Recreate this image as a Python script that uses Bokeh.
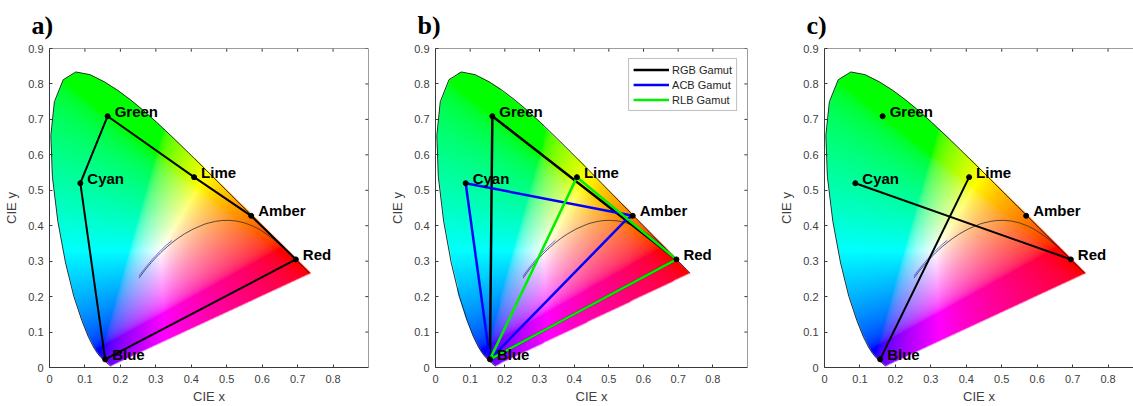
import numpy as np
from bokeh.plotting import figure
from bokeh.layouts import row
from bokeh.models import Range1d, FixedTicker, Legend, LegendItem, Span
from bokeh.embed import file_html
from bokeh.resources import INLINE
from bokeh.core.properties import value

# ---------------- data ----------------
# CIE 1931 spectral locus (380..700 nm, 5 nm)
locus_x = [0.1741, 0.1740, 0.1738, 0.1736, 0.1733, 0.1730, 0.1726, 0.1721, 0.1714, 0.1703,
           0.1689, 0.1669, 0.1644, 0.1611, 0.1566, 0.1510, 0.1440, 0.1355, 0.1241, 0.1096,
           0.0913, 0.0687, 0.0454, 0.0235, 0.0082, 0.0039, 0.0139, 0.0389, 0.0743, 0.1142,
           0.1547, 0.1929, 0.2296, 0.2658, 0.3016, 0.3373, 0.3731, 0.4087, 0.4441, 0.4788,
           0.5125, 0.5448, 0.5752, 0.6029, 0.6270, 0.6482, 0.6658, 0.6801, 0.6915, 0.7006,
           0.7079, 0.7140, 0.7190, 0.7230, 0.7260, 0.7283, 0.7300, 0.7311, 0.7320, 0.7327,
           0.7334, 0.7340, 0.7344, 0.7346, 0.7347]
locus_y = [0.0050, 0.0050, 0.0049, 0.0049, 0.0048, 0.0048, 0.0048, 0.0048, 0.0051, 0.0058,
           0.0069, 0.0086, 0.0109, 0.0138, 0.0177, 0.0227, 0.0297, 0.0399, 0.0578, 0.0868,
           0.1327, 0.2007, 0.2950, 0.4127, 0.5384, 0.6548, 0.7502, 0.8120, 0.8338, 0.8262,
           0.8059, 0.7816, 0.7543, 0.7243, 0.6923, 0.6589, 0.6245, 0.5896, 0.5547, 0.5202,
           0.4866, 0.4544, 0.4242, 0.3965, 0.3725, 0.3514, 0.3340, 0.3197, 0.3083, 0.2993,
           0.2920, 0.2859, 0.2809, 0.2770, 0.2740, 0.2717, 0.2700, 0.2689, 0.2680, 0.2673,
           0.2666, 0.2660, 0.2656, 0.2654, 0.2653]

# Planckian locus (1000 K .. 25000 K)
planck_x = [0.6528, 0.6251, 0.5985, 0.5857, 0.5732, 0.5496, 0.5267, 0.5056, 0.4862, 0.4685,
            0.4476, 0.4369, 0.4053, 0.3805, 0.3608, 0.3451, 0.3325, 0.3221, 0.3135, 0.3064,
            0.2952, 0.2869, 0.2807, 0.2719, 0.2637, 0.2565, 0.2525]
planck_y = [0.3444, 0.3674, 0.3858, 0.3931, 0.3993, 0.4082, 0.4133, 0.4152, 0.4147, 0.4123,
            0.4074, 0.4041, 0.3907, 0.3768, 0.3636, 0.3516, 0.3411, 0.3318, 0.3237, 0.3166,
            0.3048, 0.2956, 0.2884, 0.2778, 0.2674, 0.2577, 0.2523]

# Daylight locus
daylight_x = [0.3457, 0.3300, 0.3100, 0.2900, 0.2700, 0.2524]
daylight_y = [0.3586, 0.3454, 0.3264, 0.3050, 0.2812, 0.2583]

# LED primaries
names = ["Green", "Cyan", "Blue", "Lime", "Amber", "Red"]
pt_x = [0.164, 0.087, 0.157, 0.408, 0.569, 0.695]
pt_y = [0.709, 0.520, 0.023, 0.537, 0.428, 0.305]
extra_x = {"ACB corner": 0.551}
extra_y = {"ACB corner": 0.418}

path_a = ["Green", "Lime", "Amber", "Red", "Blue", "Cyan", "Green"]
rgb_path = ["Green", "Red", "Blue", "Green"]
acb_path = ["Amber", "Cyan", "Blue", "ACB corner", "Amber"]
rlb_path = ["Red", "Lime", "Blue", "Red"]
paths_c = [["Cyan", "Red"], ["Lime", "Blue"]]

x_ticks = [0, 0.1, 0.2, 0.3, 0.4, 0.5, 0.6, 0.7, 0.8]
y_ticks = [0, 0.1, 0.2, 0.3, 0.4, 0.5, 0.6, 0.7, 0.8, 0.9]
x_tick_labels = ["0", "0.1", "0.2", "0.3", "0.4", "0.5", "0.6", "0.7", "0.8"]
y_tick_labels = ["0", "0.1", "0.2", "0.3", "0.4", "0.5", "0.6", "0.7", "0.8", "0.9"]
x_max, y_max = 0.9, 0.9

PX = dict(zip(names, pt_x)); PX.update(extra_x)
PY = dict(zip(names, pt_y)); PY.update(extra_y)

def coords(path):
    return [PX[n] for n in path], [PY[n] for n in path]

# ---------------- chromaticity background image ----------------
img_dw, img_dh = 0.75, 0.85
nx, ny, s = 266, 302, 3
xf = (np.arange(nx * s) + 0.5) * img_dw / (nx * s)
yf = (np.arange(ny * s) + 0.5) * img_dh / (ny * s)
XX, YY = np.meshgrid(xf, yf)
vx = np.array(locus_x); vy = np.array(locus_y)
inside = np.zeros(XX.shape, dtype=bool)
j = len(vx) - 1
for i in range(len(vx)):
    xi, yi, xj, yj = vx[i], vy[i], vx[j], vy[j]
    cond = (yi > YY) != (yj > YY)
    dy = (yj - yi) if (yj - yi) != 0 else 1e-12
    xint = (xj - xi) * (YY - yi) / dy + xi
    inside ^= cond & (XX < xint)
    j = i
Xc = XX / YY
Zc = (1 - XX - YY) / YY
r = 3.2406 * Xc - 1.5372 - 0.4986 * Zc
g = -0.9689 * Xc + 1.8758 + 0.0415 * Zc
b = 0.0557 * Xc - 0.2040 + 1.0570 * Zc
rgb = np.clip(np.stack([r, g, b], axis=-1), 0, None)
rgb = rgb / np.maximum(rgb.max(axis=-1, keepdims=True), 1e-9)
rgb = np.where(rgb <= 0.0031308, 12.92 * rgb, 1.055 * np.power(rgb, 1 / 2.4) - 0.055)
m = inside.astype(float)
cov = m.reshape(ny, s, nx, s).mean(axis=(1, 3))
col = (rgb * m[..., None]).reshape(ny, s, nx, s, 3).sum(axis=(1, 3))
col = col / np.maximum(m.reshape(ny, s, nx, s).sum(axis=(1, 3)), 1e-9)[..., None]
rgba = np.zeros((ny, nx, 4), dtype=np.uint8)
rgba[..., :3] = np.clip(col * 255 + 0.5, 0, 255).astype(np.uint8)
rgba[..., 3] = np.clip(cov * 255 + 0.5, 0, 255).astype(np.uint8)
img = np.ascontiguousarray(rgba).view(np.uint32).reshape(ny, nx)

# ---------------- figures ----------------
AX = "#3a3a3a"
FONT = "Liberation Sans"
TICK = 0.009  # inward tick length (data units) for top/right edges
FRAME_W = 319
UNIT_PX = FRAME_W / x_max

def make_fig(title, width, left_b, right_b, x_end, right_edge):
    p = figure(width=width, height=406, x_range=Range1d(0, x_end), y_range=Range1d(0, y_max),
               output_backend="svg", toolbar_location=None,
               min_border_left=left_b, min_border_right=right_b,
               min_border_top=48, min_border_bottom=38)
    p.xgrid.visible = False
    p.ygrid.visible = False
    p.outline_line_color = None
    p.background_fill_color = "white"
    p.title.text = title
    p.title.text_font = "Liberation Serif"
    p.title.text_font_size = "26px"
    p.title.text_font_style = "bold"
    p.title.text_color = "black"
    p.title.offset = -18
    p.title.standoff = 17
    for ax in (p.xaxis[0], p.yaxis[0]):
        ax.axis_line_color = AX
        ax.major_tick_line_color = AX
        ax.minor_tick_line_color = None
        ax.major_tick_in = 3
        ax.major_tick_out = 0
        ax.major_label_text_font = FONT
        ax.major_label_text_font_size = "11px"
        ax.major_label_text_color = "#404040"
        ax.axis_label_text_font = FONT
        ax.axis_label_text_font_size = "13px"
        ax.axis_label_text_font_style = "normal"
        ax.axis_label_text_color = "#404040"
    p.xaxis[0].ticker = FixedTicker(ticks=x_ticks)
    p.xaxis[0].major_label_overrides = dict(zip(x_ticks, x_tick_labels))
    p.yaxis[0].ticker = FixedTicker(ticks=y_ticks)
    p.yaxis[0].major_label_overrides = dict(zip(y_ticks, y_tick_labels))
    p.xaxis[0].axis_label = "CIE x"
    p.yaxis[0].axis_label = "CIE y"
    p.xaxis[0].major_label_standoff = 7
    p.xaxis[0].axis_label_standoff = 3
    p.yaxis[0].major_label_standoff = 6
    p.yaxis[0].axis_label_standoff = 6
    # top edge (and right edge) of the box, with inward ticks
    p.add_layout(Span(location=y_max, dimension="width", line_color=AX, line_width=1))
    p.segment(x0=x_ticks, y0=[y_max] * len(x_ticks), x1=x_ticks,
              y1=[y_max - TICK] * len(x_ticks), line_color=AX, line_width=1)
    if right_edge:
        p.add_layout(Span(location=x_end, dimension="height", line_color=AX, line_width=1))
        p.segment(x0=[x_end] * len(y_ticks), y0=y_ticks, x1=[x_end - TICK] * len(y_ticks),
                  y1=y_ticks, line_color=AX, line_width=1)
    # chromaticity background
    p.image_rgba(image=[img], x=0, y=0, dw=img_dw, dh=img_dh)
    p.line(locus_x, locus_y, line_color="black", line_width=0.8)
    p.line(planck_x, planck_y, line_color="#303030", line_width=1, line_alpha=0.8)
    p.line(daylight_x, daylight_y, line_color="#2040ff", line_width=1, line_alpha=0.7)
    return p

def add_points(p):
    p.scatter(pt_x, pt_y, size=5, color="black")
    p.text(x=pt_x, y=pt_y, text=names, text_font=value(FONT), text_font_style="bold",
           text_font_size="15px", text_baseline="middle", text_align="left",
           x_offset=7, y_offset=-5, text_color="black")

# a)
pa = make_fig("a)", 49 + FRAME_W + 19, 49, 19, x_max, True)
xa, ya = coords(path_a)
pa.line(xa, ya, line_color="black", line_width=2)
add_points(pa)

# b)
pb = make_fig("b)", 41 + FRAME_W + 19, 41, 19, x_max, True)
xr, yr = coords(rgb_path)
r1 = pb.line(xr, yr, line_color="black", line_width=2.5)
xc, yc = coords(acb_path)
r2 = pb.line(xc, yc, line_color="#0000ff", line_width=2.5)
xl, yl = coords(rlb_path)
r3 = pb.line(xl, yl, line_color="#00ee00", line_width=2.5)
add_points(pb)
leg = Legend(items=[LegendItem(label="RGB Gamut", renderers=[r1]),
                    LegendItem(label="ACB Gamut", renderers=[r2]),
                    LegendItem(label="RLB Gamut", renderers=[r3])],
             location="top_right")
leg.label_text_font = FONT
leg.label_text_font_size = "11px"
leg.label_text_color = "#262626"
leg.glyph_width = 36
leg.glyph_height = 13
leg.label_height = 13
leg.spacing = 2
leg.padding = 4
leg.margin = 10
leg.label_standoff = 3
leg.border_line_color = "#808080"
leg.border_line_width = 1
pb.add_layout(leg)

# c) (the right part of the box is cut off by the page edge)
c_frame_w = 1133 - (49 + FRAME_W + 19) - (41 + FRAME_W + 19) - 58
pc = make_fig("c)", 58 + c_frame_w, 58, 0, c_frame_w / UNIT_PX, False)
for path in paths_c:
    xs_, ys_ = coords(path)
    pc.line(xs_, ys_, line_color="black", line_width=2)
add_points(pc)

layout = row(pa, pb, pc)
open("out.html", "w").write(file_html(layout, INLINE))
